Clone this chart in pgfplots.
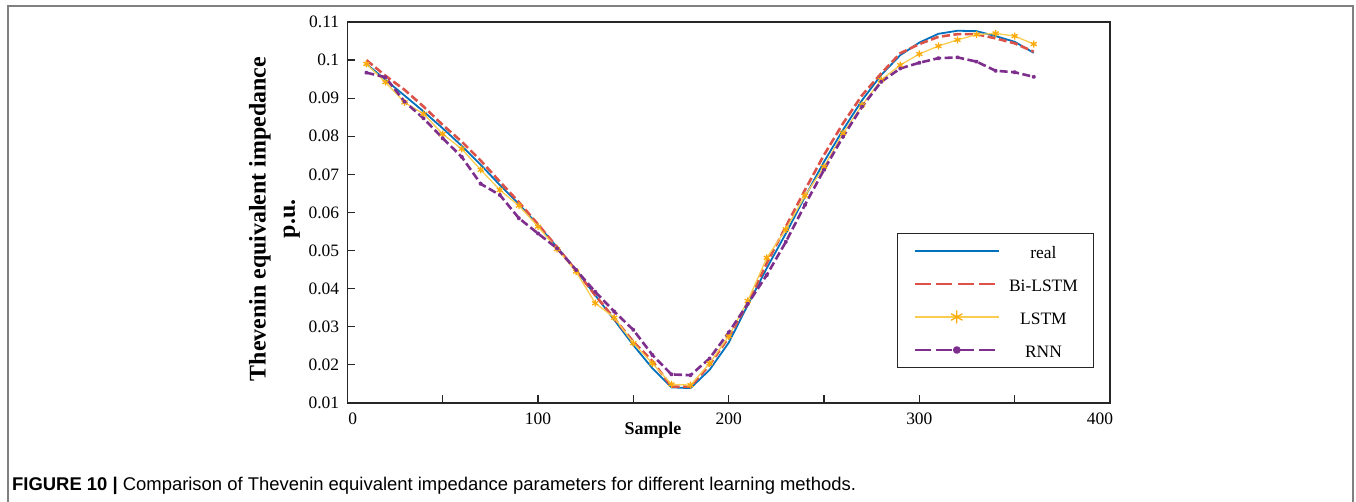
\documentclass[border=0pt]{standalone}
\usepackage{pgfplots}
\pgfplotsset{compat=1.18}
\usepackage{pgfplotstable}
\usepackage{fontspec}
\setmainfont{Liberation Serif}
\newfontfamily\capfont{Liberation Sans}
\definecolor{cReal}{RGB}{0,114,189}
\definecolor{cBi}{RGB}{220,82,72}
\definecolor{cLstm}{RGB}{250,205,80}
\definecolor{cLstmMark}{RGB}{250,170,10}
\definecolor{cRnn}{RGB}{126,47,142}
\definecolor{axc}{RGB}{38,38,38}
\newcommand{\lf}{\fontsize{17.5}{20}\selectfont}

\pgfplotstableread{
x y
10 0.0990
20 0.0948
30 0.0907
40 0.0865
50 0.0821
60 0.0775
70 0.0725
80 0.0672
90 0.0622
100 0.0567
110 0.0509
120 0.0449
130 0.0383
140 0.0318
150 0.0252
160 0.0191
170 0.0141
180 0.0139
190 0.0187
200 0.0258
210 0.0357
220 0.0454
230 0.0545
240 0.0641
250 0.0733
260 0.0817
270 0.0895
280 0.0961
290 0.1013
300 0.1046
310 0.1069
320 0.1077
330 0.1076
340 0.1063
350 0.1048
360 0.1019
}\realdata

\pgfplotstableread{
x y
10 0.1000
20 0.0959
30 0.0922
40 0.0878
50 0.0830
60 0.0786
70 0.0736
80 0.0681
90 0.0627
100 0.0569
110 0.0509
120 0.0447
130 0.0383
140 0.0322
150 0.0261
160 0.0210
170 0.0143
180 0.0143
190 0.0200
200 0.0272
210 0.0362
220 0.0467
230 0.0563
240 0.0659
250 0.0751
260 0.0834
270 0.0908
280 0.0965
290 0.1018
300 0.1042
310 0.1061
320 0.1068
330 0.1068
340 0.1057
350 0.1044
360 0.1022
}\bidata

\pgfplotstableread{
x y
10 0.0990
20 0.0942
30 0.0889
40 0.0859
50 0.0806
60 0.0767
70 0.0712
80 0.0659
90 0.0618
100 0.0563
110 0.0504
120 0.0445
130 0.0362
140 0.0324
150 0.0257
160 0.0204
170 0.0149
180 0.0147
190 0.0204
200 0.0275
210 0.0368
220 0.0481
230 0.0556
240 0.0644
250 0.0720
260 0.0808
270 0.0882
280 0.0948
290 0.0987
300 0.1016
310 0.1037
320 0.1053
330 0.1067
340 0.1070
350 0.1063
360 0.1042
}\lstmdata

\pgfplotstableread{
x y
10 0.0967
20 0.0955
30 0.0891
40 0.0847
50 0.0795
60 0.0746
70 0.0675
80 0.0646
90 0.0585
100 0.0545
110 0.0506
120 0.0449
130 0.0392
140 0.0340
150 0.0292
160 0.0226
170 0.0175
180 0.0173
190 0.0217
200 0.0285
210 0.0360
220 0.0436
230 0.0523
240 0.0620
250 0.0712
260 0.0799
270 0.0878
280 0.0943
290 0.0978
300 0.0993
310 0.1005
320 0.1007
330 0.0996
340 0.0972
350 0.0968
360 0.0956
}\rnndata

\begin{document}
\begin{tikzpicture}[x=1bp,y=1bp]
\useasboundingbox (0,0) rectangle (1356,502);
\begin{scope}
\clip (0,0) rectangle (1356,502);
\draw[black!50, line width=1.5bp] (8,-10) -- (8,496) -- (1353,496) -- (1353,-10);
\end{scope}
\begin{axis}[
  at={(347.3bp,99bp)}, anchor=south west,
  scale only axis, width=762.7bp, height=381bp,
  xmin=0, xmax=400, ymin=0.01, ymax=0.11,
  xtick={0,50,...,400},
  xticklabels={\hspace*{11bp}0,,100,,200,,300,,400\hspace*{20bp}},
  ytick={0.01,0.02,0.03,0.04,0.05,0.06,0.07,0.08,0.09,0.1,0.11},
  yticklabels={0.01,0.02,0.03,0.04,0.05,0.06,0.07,0.08,0.09,0.1,0.11},
  /pgf/number format/assume math mode=true,
  tick pos=left, tick align=inside, major tick length=8bp,
  axis line style={draw=axc, line width=1.5bp},
  tick style={draw=axc, line width=1.2bp},
  ticklabel style={font=\lf, text=black},
  xticklabel style={anchor=north, inner sep=0pt, yshift=-10bp},
  yticklabel style={anchor=east, inner sep=0pt, xshift=-8bp},
  xlabel={Sample},
  xlabel style={at={(axis description cs:0.4008,-0.0716)}, anchor=center, font=\bfseries\fontsize{18}{21}\selectfont},
  ylabel={Thevenin equivalent impedance\\p.u.},
  ylabel style={at={(axis description cs:-0.0955,0.483)}, anchor=center, align=center, font=\bfseries\fontsize{24}{29.5}\selectfont},
  legend cell align=center,
  legend style={at={(0.7207,0.4462)}, anchor=north west, draw=axc, line width=1bp,
    inner xsep=16bp, inner ysep=9.5bp, row sep=17bp, column sep=9bp,
    font=\lf,
    nodes={inner sep=0pt, text height=16bp, text depth=0bp}},
  legend image code/.code={\draw[mark repeat=2,mark phase=2,#1] plot coordinates {(0bp,0bp) (42bp,0bp) (84bp,0bp)};},
  every axis plot/.append style={line join=round},
]
\addplot[cReal, line width=1.8bp] table[x=x,y=y] {\realdata};
\addlegendentry{\lf real}
\addplot[cBi, line width=2.6bp, dash pattern=on 8bp off 3.5bp,
  legend image post style={dash pattern=on 16bp off 5.5bp}] table[x=x,y=y] {\bidata};
\addlegendentry{\lf Bi-LSTM}
\addplot[cLstm, line width=1.3bp, mark=asterisk, mark size=3.5bp, mark options={cLstmMark, solid, line width=1.3bp},
  legend image post style={mark size=6.5bp}] table[x=x,y=y] {\lstmdata};
\addlegendentry{\lf LSTM}
\addplot[cRnn, line width=2.6bp, dash pattern=on 8bp off 3.5bp, mark=*, mark size=0.9bp, mark options={solid, cRnn},
  legend image post style={dash pattern=on 16bp off 5.5bp, mark size=2.5bp}] table[x=x,y=y] {\rnndata};
\addlegendentry{\lf RNN}
\end{axis}
\node[anchor=base west, inner sep=0pt, font=\capfont\fontsize{18.5}{21}\selectfont] at (12,11) {\textbf{FIGURE 10 |} Comparison of Thevenin equivalent impedance parameters for different learning methods.};
\end{tikzpicture}
\end{document}
